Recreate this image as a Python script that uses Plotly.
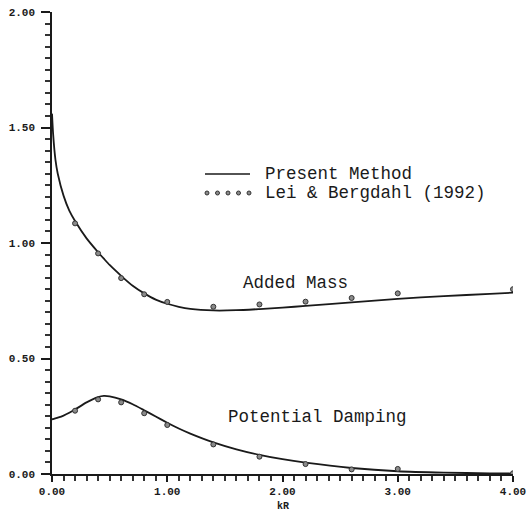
import plotly.graph_objects as go

# Present method: added mass and potential damping vs kR
kr_curve = [0.0, 0.01, 0.03, 0.05, 0.1, 0.15, 0.2, 0.3, 0.4, 0.45, 0.5, 0.6, 0.7, 0.8, 0.9,
            1.0, 1.1, 1.2, 1.4, 1.6, 1.8, 2.0, 2.2, 2.6, 3.0, 3.4, 3.8, 4.0]
added_mass_curve = [1.56, 1.47, 1.36, 1.30, 1.205, 1.14, 1.095, 1.02, 0.96, 0.932, 0.905,
                    0.858, 0.815, 0.782, 0.755, 0.737, 0.724, 0.715, 0.708, 0.709, 0.714,
                    0.72, 0.728, 0.743, 0.758, 0.77, 0.78, 0.785]
damping_curve = [0.237, 0.238, 0.241, 0.244, 0.253, 0.265, 0.279, 0.31, 0.333, 0.338,
                 0.336, 0.323, 0.302, 0.276, 0.249, 0.222, 0.197, 0.175, 0.137, 0.107,
                 0.083, 0.064, 0.049, 0.026, 0.012, 0.006, 0.003, 0.002]

# Lei & Bergdahl (1992)
kr_ref = [0.2, 0.4, 0.6, 0.8, 1.0, 1.4, 1.8, 2.2, 2.6, 3.0, 4.0]
added_mass_ref = [1.085, 0.955, 0.848, 0.778, 0.745, 0.724, 0.734, 0.746, 0.762, 0.782, 0.80]
damping_ref = [0.274, 0.323, 0.31, 0.263, 0.212, 0.128, 0.075, 0.043, 0.02, 0.022, 0.003]

# axis ranges and tick steps
x_range, y_range = [0.0, 4.0], [0.0, 2.0]
x_major, x_minor = 1.0, 0.1
y_major, y_minor = 0.5, 0.05

MONO = "Liberation Mono"
INK = "#1a1a1a"

fig = go.Figure()

line_style = dict(color=INK, width=1.8, shape="spline", smoothing=0.6)
marker_style = dict(symbol="circle", size=5, color="#8a8a8a",
                    line=dict(color="#333333", width=1))

fig.add_trace(go.Scatter(x=kr_curve, y=added_mass_curve, mode="lines",
                         line=line_style, showlegend=False))
fig.add_trace(go.Scatter(x=kr_curve, y=damping_curve, mode="lines",
                         line=line_style, showlegend=False))
fig.add_trace(go.Scatter(x=kr_ref, y=added_mass_ref, mode="markers",
                         marker=marker_style, showlegend=False))
fig.add_trace(go.Scatter(x=kr_ref, y=damping_ref, mode="markers",
                         marker=marker_style, showlegend=False))

W, H = 527, 516
ML, MR, MT, MB = 52, 14, 12, 42
pw, ph = W - ML - MR, H - MT - MB


def px_to_paper(px, py):
    return (px - ML) / pw, 1 - (py - MT) / ph


shapes = []

# hand-built key: solid sample + dotted sample
x0, y0 = px_to_paper(205, 174)
x1, _ = px_to_paper(250, 174)
shapes.append(dict(type="line", xref="paper", yref="paper", x0=x0, x1=x1, y0=y0, y1=y0,
                   line=dict(color=INK, width=1.6)))
for i in range(5):
    cx, cy = px_to_paper(207 + i * 10.5, 193)
    rx, ry = 2.0 / pw, 2.0 / ph
    shapes.append(dict(type="circle", xref="paper", yref="paper",
                       x0=cx - rx, x1=cx + rx, y0=cy - ry, y1=cy + ry,
                       fillcolor="#8a8a8a", line=dict(color="#333333", width=1)))

annotations = []
tx, ty1 = px_to_paper(263, 174)
_, ty2 = px_to_paper(263, 193)
for txt, yy in [("Present Method", ty1), ("Lei & Bergdahl (1992)", ty2)]:
    annotations.append(dict(text=txt, x=tx, y=yy, xref="paper", yref="paper",
                            xanchor="left", yanchor="middle", showarrow=False,
                            font=dict(family=MONO, size=17.5, color=INK)))

annotations.append(dict(text="Added Mass", x=2.11, y=0.827, xref="x", yref="y",
                        showarrow=False, xanchor="center", yanchor="middle",
                        font=dict(family=MONO, size=17.5, color=INK)))
annotations.append(dict(text="Potential Damping", x=2.30, y=0.247, xref="x", yref="y",
                        showarrow=False, xanchor="center", yanchor="middle",
                        font=dict(family=MONO, size=17.5, color=INK)))

# x-axis title
kx, ky = px_to_paper(283, 506)
annotations.append(dict(text="<b>kR</b>", x=kx, y=ky, xref="paper", yref="paper",
                        showarrow=False, xanchor="center", yanchor="middle",
                        font=dict(family=MONO, size=10, color=INK)))

tick_font = dict(family=MONO, size=11, color=INK, weight="bold")

fig.update_layout(
    width=W, height=H,
    margin=dict(l=ML, r=MR, t=MT, b=MB, autoexpand=False),
    paper_bgcolor="white", plot_bgcolor="white",
    shapes=shapes, annotations=annotations,
    showlegend=False,
    xaxis=dict(range=x_range, tickmode="linear", tick0=0, dtick=x_major, tickformat=".2f",
               showgrid=False, zeroline=False, showline=True, automargin=False,
               linecolor=INK, linewidth=1.5,
               ticks="outside", ticklen=6, tickwidth=2, tickcolor=INK,
               minor=dict(ticks="outside", dtick=x_minor, ticklen=5, tickwidth=2,
                          tickcolor="#333333"),
               tickfont=tick_font, ticklabelstandoff=0),
    yaxis=dict(range=y_range, tickmode="linear", tick0=0, dtick=y_major, tickformat=".2f",
               showgrid=False, zeroline=False, showline=True, automargin=False,
               linecolor=INK, linewidth=1.5,
               ticks="outside", ticklen=9, tickwidth=2, tickcolor=INK,
               minor=dict(ticks="outside", dtick=y_minor, ticklen=5, tickwidth=2,
                          tickcolor="#333333"),
               tickfont=tick_font, ticklabelstandoff=4),
)

fig.write_html("out.html")
